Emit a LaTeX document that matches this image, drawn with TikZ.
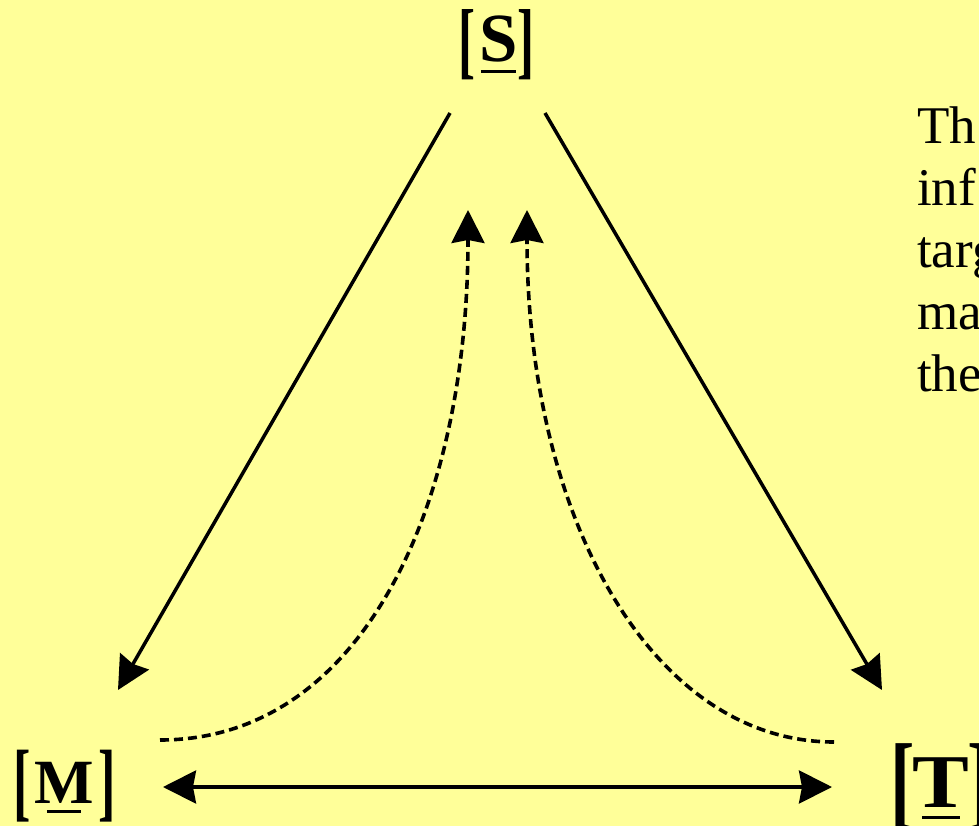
\documentclass[tikz,border=0pt]{standalone}
\usepackage{fontspec}
\usepackage{graphicx}
\setmainfont{Liberation Serif}
\usetikzlibrary{arrows.meta}
\definecolor{bgyellow}{HTML}{FFFF99}
\newcommand{\ulet}[3]{\ooalign{\textbf{#1}\cr\hidewidth\rule[-#3]{#2}{3pt}\hidewidth\cr}}
\newcommand{\brk}[4]{\raisebox{#3}{\fontsize{#2}{#2}\selectfont\scalebox{#4}[1]{\textbf{#1}}}}
\begin{document}
\begin{tikzpicture}[x=1pt,y=-1pt,
  solidarr/.style={line width=3.5pt,-{Stealth[length=33pt,width=33pt,inset=3pt]}},
  bothsarr/.style={line width=3.5pt,{Stealth[length=33pt,width=33pt,inset=3pt]}-{Stealth[length=33pt,width=33pt,inset=3pt]}},
  dasharr/.style={line width=3.6pt,dash pattern=on 9pt off 5pt,-{Stealth[length=33pt,width=33pt,inset=3pt]}},
  vlabel/.style={inner sep=0pt,anchor=base west},
  bodytext/.style={inner sep=0pt,anchor=base west,align=left,font=\fontsize{53}{62}\selectfont}]
\fill[bgyellow] (0,0) rectangle (979,826);
\clip (0,0) rectangle (979,826);
% labels
\node[vlabel] (S) at (458.6,62) {\brk{[}{85}{-7pt}{0.6}\kern3.4pt{\fontsize{69}{69}\selectfont\ulet{S}{35pt}{11.5pt}}\kern0pt\brk{]}{85}{-7pt}{0.6}};
\node[vlabel] (M) at (13.5,803) {\brk{[}{87}{-7pt}{0.6}\kern3pt{\fontsize{63}{63}\selectfont\ulet{M}{34pt}{9.5pt}}\kern5pt\brk{]}{87}{-7pt}{0.6}};
\node[vlabel] (T) at (890,807) {\brk{[}{105}{-9pt}{0.7}\kern-1.8pt{\fontsize{76}{76}\selectfont\scalebox{1.12}[1]{\ulet{T}{34pt}{11.5pt}}}\kern-2pt\brk{]}{105}{-9pt}{0.7}};
\node[bodytext] (txt) at (917,391) {Th\\inf\\targ\\ma\\the};
% connector end points
\coordinate (s1) at (450,113);
\coordinate (m1) at (118,690);
\coordinate (s2) at (545,113);
\coordinate (t1) at (882,690);
\coordinate (m2) at (163,787);
\coordinate (t2) at (832,787);
\coordinate (m3) at (160,740);
\coordinate (s3) at (468,210);
\coordinate (t3) at (834,742);
\coordinate (s4) at (527,210);
% connectors
\draw[solidarr] (s1) -- (m1);
\draw[solidarr] (s2) -- (t1);
\draw[bothsarr] (m2) -- (t2);
\draw[dasharr] (m3) .. controls (360,740) and (468,510) .. (s3);
\draw[dasharr] (t3) .. controls (653,742) and (527,520) .. (s4);
\end{tikzpicture}
\end{document}
